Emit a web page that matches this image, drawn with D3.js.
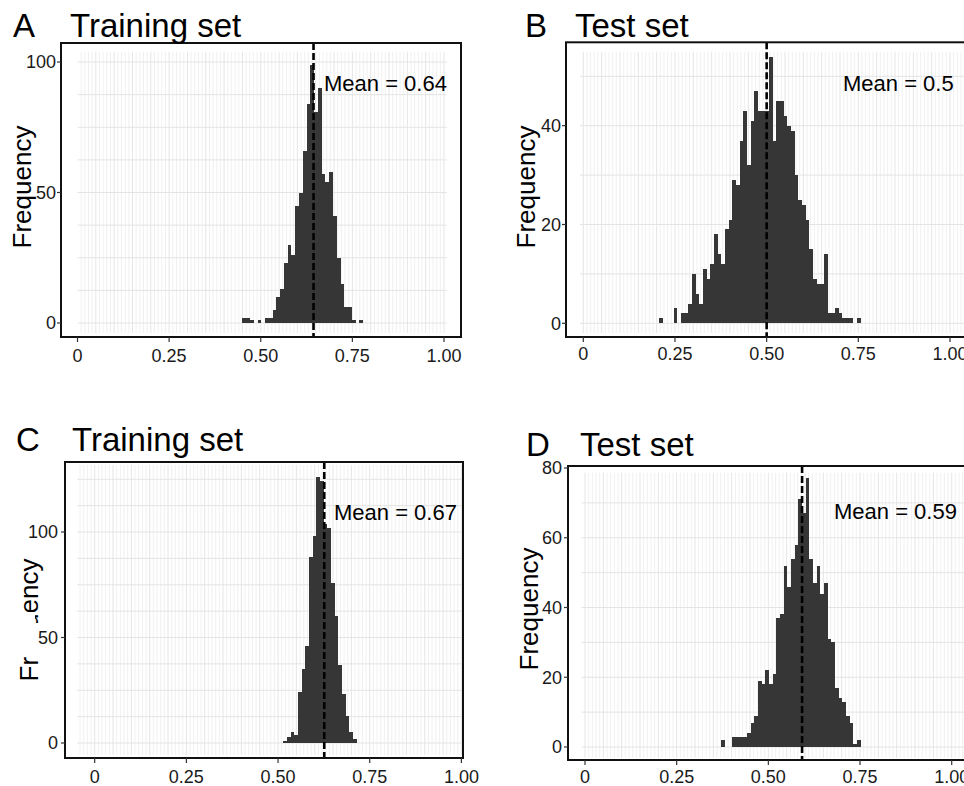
<!DOCTYPE html>
<html>
<head>
<meta charset="utf-8">
<script src="https://cdn.jsdelivr.net/npm/d3@7"></script>
<style>
  body { margin: 0; background: #fff; }
  svg { display: block; }
  text { font-family: "Liberation Sans", Arial, Helvetica, sans-serif; fill: #000; }
</style>
</head>
<body>
<svg id="chart" width="964" height="786"></svg>
<script>
// bin counts, one value per bin, left to right
var countsA = [2,2,1,0,1,0,2,2,5,10,13,23,30,26,45,50,66,84,99,81,90,57,54,58,41,25,15,6,6,1,0,1];
var countsB = [1,0,0,0,3,0,2,2,4,10,6,4,11,9,12,18,14,12,19,21,29,28,37,43,32,41,47,43,43,43,
               54,37,45,45,42,40,39,30,25,24,21,15,9,8,8,14,2,2,3,2,1,1,1,0,1];
var countsC = [1,3,5,4,24,35,46,88,98,126,124,104,102,76,60,37,23,13,5,2];
var countsD = [2,0,0,3,3,3,3,4,7,9,19,18,22,18,21,37,38,52,46,54,58,71,67,77,54,47,52,44,47,31,
               30,17,14,13,9,7,1,2];

var binStart = [0.45, 0.206, 0.514, 0.372];
var binWidth = [0.0103, 0.01, 0.01, 0.01];

var meanLine = [0.644, 0.5, 0.626, 0.592];
var meanText = ["Mean = 0.64", "Mean = 0.5", "Mean = 0.67", "Mean = 0.59"];

var letters = ["A", "B", "C", "D"];
var titles = ["Training set", "Test set", "Training set", "Test set"];

var xTicks = [0, 0.25, 0.5, 0.75, 1];
var xTickLabels = ["0", "0.25", "0.50", "0.75", "1.00"];
var yTicksA = [0, 50, 100];
var yTicksB = [0, 20, 40];
var yTicksC = [0, 50, 100];
var yTicksD = [0, 20, 40, 60, 80];
var yGridStep = [12.5, 10, 12.5, 10];

// page layout of the four panels (pixels)
var panels = [
  { counts: countsA, yTicks: yTicksA, x0: 77.5, x1: 444, y0: 323, yRef: 100, y1: 62,
    box: [61, 43, 461, 337], grid: [77.7, 51.7, 446.7, 333],
    yLabR: 56, xLabY: 362, letterX: 13, titleX: 70, titleY: 36.7,
    meanX: 324, meanY: 91, freqX: 31, freqY: 187 },
  { counts: countsB, yTicks: yTicksB, x0: 583.3, x1: 950, y0: 323.3, yRef: 40, y1: 125.7,
    box: [566, 42.3, 970, 337], grid: [580, 51.7, 964, 333],
    yLabR: 561, xLabY: 359.5, letterX: 525, titleX: 575, titleY: 36.7,
    meanX: 843, meanY: 90.7, freqX: 535, freqY: 187 },
  { counts: countsC, yTicks: yTicksC, x0: 94.7, x1: 461.4, y0: 743, yRef: 100, y1: 532,
    box: [65, 462, 463, 758], grid: [77, 465, 462, 755],
    yLabR: 58, xLabY: 782.5, letterX: 16, titleX: 72, titleY: 451,
    meanX: 334, meanY: 520, freqX: 38, freqY: 620,
    // part of this axis title is covered over in the source figure
    masks: [[8, 623, 40, 34], [8, 612, 27, 12]] },
  { counts: countsD, yTicks: yTicksD, x0: 585, x1: 951.7, y0: 747, yRef: 80, y1: 468,
    box: [568, 466, 972, 760], grid: [581.7, 472.7, 964, 758],
    yLabR: 562, xLabY: 782.5, letterX: 526, titleX: 580, titleY: 456,
    meanX: 834, meanY: 519.3, freqX: 538, freqY: 609 }
];

var svg = d3.select("#chart");

panels.forEach(function (p, i) {
  var x = d3.scaleLinear().domain([0, 1]).range([p.x0, p.x1]);
  var y = d3.scaleLinear().domain([0, p.yRef]).range([p.y0, p.y1]);
  var g = svg.append("g");

  // vertical grid, one line per 0.01
  var v0 = Math.ceil(x.invert(p.grid[0]) * 100 - 1e-6);
  var v1 = Math.floor(x.invert(p.grid[2]) * 100 + 1e-6);
  g.selectAll(".vg").data(d3.range(v0, v1 + 1)).enter().append("line")
    .attr("x1", function (k) { return x(k / 100); })
    .attr("x2", function (k) { return x(k / 100); })
    .attr("y1", p.grid[1]).attr("y2", p.grid[3])
    .style("stroke", function (k) { return k % 5 == 0 ? "#dedede" : "#ececec"; })
    .style("stroke-width", 0.8);

  // horizontal grid
  var step = yGridStep[i];
  var h0 = Math.ceil(y.invert(p.grid[3]) / step);
  var h1 = Math.floor(y.invert(p.grid[1]) / step);
  g.selectAll(".hg").data(d3.range(h0, h1 + 1)).enter().append("line")
    .attr("x1", p.grid[0]).attr("x2", p.grid[2])
    .attr("y1", function (k) { return y(k * step); })
    .attr("y2", function (k) { return y(k * step); })
    .style("stroke", "#e4e4e4")
    .style("stroke-width", 1);

  // bars
  var w = x(binWidth[i]) - x(0);
  g.selectAll(".bar").data(p.counts).enter().append("rect")
    .attr("x", function (d, j) { return x(binStart[i] + j * binWidth[i]); })
    .attr("width", w)
    .attr("y", function (d) { return y(d); })
    .attr("height", function (d) { return y(0) - y(d); })
    .attr("shape-rendering", "crispEdges")
    .style("fill", "#363636");

  // mean line
  g.append("line")
    .attr("x1", x(meanLine[i])).attr("x2", x(meanLine[i]))
    .attr("y1", p.box[1]).attr("y2", p.box[3])
    .style("stroke", "#000")
    .style("stroke-width", 2.6)
    .style("stroke-dasharray", "7,3");

  // panel border
  g.append("rect")
    .attr("x", p.box[0]).attr("y", p.box[1])
    .attr("width", p.box[2] - p.box[0]).attr("height", p.box[3] - p.box[1])
    .style("fill", "none").style("stroke", "#111").style("stroke-width", 2);

  // y axis title
  g.append("text")
    .attr("transform", "translate(" + p.freqX + "," + p.freqY + ") rotate(-90)")
    .attr("text-anchor", "middle")
    .style("font-size", "26px")
    .text("Frequency");
  (p.masks || []).forEach(function (m) {
    g.append("rect").attr("x", m[0]).attr("y", m[1])
      .attr("width", m[2]).attr("height", m[3]).style("fill", "#fff");
  });

  // x axis ticks + labels
  g.selectAll(".xt").data(xTicks).enter().append("line")
    .attr("x1", function (d) { return x(d); }).attr("x2", function (d) { return x(d); })
    .attr("y1", p.box[3]).attr("y2", p.box[3] + 5)
    .style("stroke", "#333").style("stroke-width", 1.2);
  g.selectAll(".xl").data(xTicks).enter().append("text")
    .attr("x", function (d) { return x(d); })
    .attr("y", p.xLabY)
    .attr("text-anchor", "middle")
    .style("font-size", "18px")
    .style("fill", "#1a1a1a")
    .text(function (d, j) { return xTickLabels[j]; });

  // y axis ticks + labels
  g.selectAll(".yt").data(p.yTicks).enter().append("line")
    .attr("x1", p.box[0] - 4).attr("x2", p.box[0])
    .attr("y1", function (d) { return y(d); }).attr("y2", function (d) { return y(d); })
    .style("stroke", "#333").style("stroke-width", 1.2);
  g.selectAll(".yl").data(p.yTicks).enter().append("text")
    .attr("x", p.yLabR)
    .attr("y", function (d) { return y(d); })
    .attr("dy", "0.36em")
    .attr("text-anchor", "end")
    .style("font-size", "18px")
    .style("fill", "#1a1a1a")
    .text(function (d) { return d; });

  // mean label
  g.append("text")
    .attr("x", p.meanX).attr("y", p.meanY)
    .style("font-size", "22px")
    .text(meanText[i]);

  // panel letter + title
  g.append("text").attr("x", p.letterX).attr("y", p.titleY)
    .style("font-size", "33px").text(letters[i]);
  g.append("text").attr("x", p.titleX).attr("y", p.titleY)
    .style("font-size", "33px").text(titles[i]);
});
</script>
</body>
</html>
